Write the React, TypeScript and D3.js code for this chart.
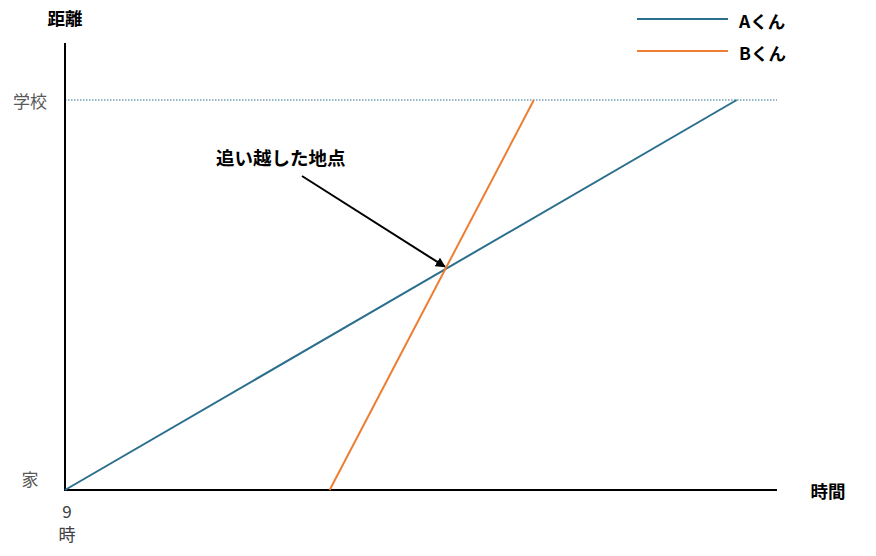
import { useRef, useEffect } from "react";
import * as d3 from "d3";

// time in minutes after 9:00, distance as share of the way to school
const seriesNames = ["Aくん", "Bくん"];
const seriesColors = ["#2b6f8e", "#ed7d31"];
const aTimes = [0, 50];
const aDist = [0, 1];
const bTimes = [19.7, 34.9];
const bDist = [0, 1];
const yTickLabels = ["家", "学校"];
const yTickValues = [0, 1];
const xTickLabel = ["9", "時"];
const passPoint = { t: 28.5, d: 0.57, label: "追い越した地点" };

const W = 876;
const H = 556;
const FONT = "'Noto Sans CJK JP', 'Noto Sans', sans-serif";

const App = () => {
  const svgRef = useRef<SVGSVGElement | null>(null);

  useEffect(() => {
    if (!svgRef.current) return;
    const svg = d3.select(svgRef.current);
    svg.selectAll("*").remove();

    const x = d3.scaleLinear().domain([0, 53]).range([65, 777]);
    const y = d3.scaleLinear().domain([0, 1]).range([490, 100]);

    // school level dotted line
    svg
      .append("line")
      .attr("x1", x(0))
      .attr("x2", x(53))
      .attr("y1", y(1))
      .attr("y2", y(1))
      .attr("stroke", "#2b6f8e")
      .attr("stroke-width", 1)
      .attr("stroke-dasharray", "1.5,1.5");

    // axes
    svg
      .append("line")
      .attr("x1", x(0))
      .attr("x2", x(0))
      .attr("y1", y(0) + 1)
      .attr("y2", 43)
      .attr("stroke", "#000")
      .attr("stroke-width", 2);
    svg
      .append("line")
      .attr("x1", x(0) - 1)
      .attr("x2", x(53))
      .attr("y1", y(0))
      .attr("y2", y(0))
      .attr("stroke", "#000")
      .attr("stroke-width", 2);

    const line = d3
      .line<[number, number]>()
      .x((d) => x(d[0]))
      .y((d) => y(d[1]));

    const series = [
      d3.zip(aTimes, aDist) as [number, number][],
      d3.zip(bTimes, bDist) as [number, number][],
    ];
    series.forEach((s, i) => {
      svg
        .append("path")
        .datum(s)
        .attr("fill", "none")
        .attr("stroke", seriesColors[i])
        .attr("stroke-width", 2)
        .attr("d", line);
    });

    // y tick labels
    yTickValues.forEach((v, i) => {
      svg
        .append("text")
        .attr("x", 30)
        .attr("y", y(v) - (v === 0 ? 12 : 0))
        .attr("text-anchor", "middle")
        .attr("dominant-baseline", "central")
        .attr("font-family", FONT)
        .attr("font-size", 17)
        .attr("fill", "#595959")
        .text(yTickLabels[i]);
    });

    // x tick label
    xTickLabel.forEach((t, i) => {
      svg
        .append("text")
        .attr("x", x(0) + 2)
        .attr("y", 510 + i * 23)
        .attr("text-anchor", "middle")
        .attr("dominant-baseline", "central")
        .attr("font-family", FONT)
        .attr("font-size", 17)
        .attr("fill", "#404040")
        .text(t);
    });

    // axis titles
    svg
      .append("text")
      .attr("x", x(0))
      .attr("y", 17)
      .attr("text-anchor", "middle")
      .attr("dominant-baseline", "central")
      .attr("font-family", FONT)
      .attr("font-size", 17.5)
      .attr("font-weight", "bold")
      .text("距離");
    svg
      .append("text")
      .attr("x", 828)
      .attr("y", y(0))
      .attr("text-anchor", "middle")
      .attr("dominant-baseline", "central")
      .attr("font-family", FONT)
      .attr("font-size", 17.5)
      .attr("font-weight", "bold")
      .text("時間");

    // legend
    seriesNames.forEach((name, i) => {
      const ly = 19 + i * 32;
      svg
        .append("line")
        .attr("x1", 637)
        .attr("x2", 728)
        .attr("y1", ly)
        .attr("y2", ly)
        .attr("stroke", seriesColors[i])
        .attr("stroke-width", 2);
      svg
        .append("text")
        .attr("x", 739)
        .attr("y", ly + 1)
        .attr("dominant-baseline", "central")
        .attr("font-family", FONT)
        .attr("font-size", 17.5)
        .attr("font-weight", "bold")
        .text(name);
    });

    // annotation
    const defs = svg.append("defs");
    defs
      .append("marker")
      .attr("id", "arrow")
      .attr("viewBox", "0 0 10 10")
      .attr("refX", 9)
      .attr("refY", 5)
      .attr("markerWidth", 5)
      .attr("markerHeight", 5)
      .attr("orient", "auto")
      .append("path")
      .attr("d", "M0,0 L10,5 L0,10 z")
      .attr("fill", "#000");

    svg
      .append("text")
      .attr("x", 216)
      .attr("y", 157)
      .attr("dominant-baseline", "central")
      .attr("font-family", FONT)
      .attr("font-size", 18.5)
      .attr("font-weight", "bold")
      .text(passPoint.label);

    svg
      .append("line")
      .attr("x1", 302)
      .attr("y1", 176)
      .attr("x2", x(passPoint.t) - 3)
      .attr("y2", y(passPoint.d) - 1)
      .attr("stroke", "#000")
      .attr("stroke-width", 2)
      .attr("marker-end", "url(#arrow)");
  }, []);

  return (
    <div style={{ margin: -8 }}>
      <svg ref={svgRef} width={W} height={H} style={{ display: "block", background: "#fff" }}></svg>
    </div>
  );
};

export default App;
